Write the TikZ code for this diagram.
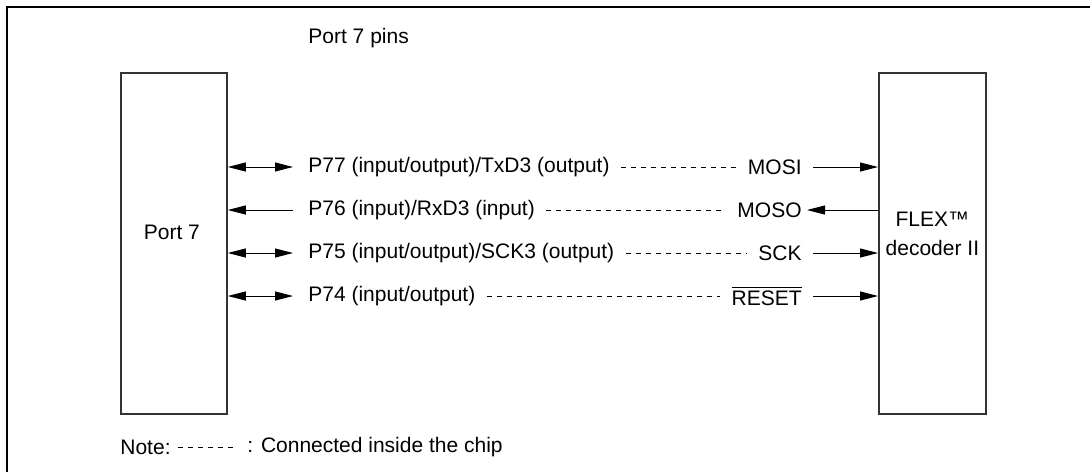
\documentclass[tikz,border=0pt]{standalone}
\usepackage{fontspec}
\setmainfont{Liberation Sans}
\usetikzlibrary{arrows.meta}
\begin{document}
\begin{tikzpicture}[x=0.5pt,y=-0.5pt,
  every node/.style={font=\fontsize{10.5}{14.5}\selectfont, inner sep=0pt},
  frame/.style={line width=1pt},
  chip/.style={draw=black!80, line width=0.9pt, minimum height=170.5pt},
  sig/.style={line width=0.5pt, >={Triangle[length=9pt,width=4.5pt]}},
  lab/.style={inner xsep=5.5pt},
  conn/.style={line width=0.5pt, dash pattern=on 2.6pt off 2.4pt}]
\useasboundingbox (0,0) rectangle (1090,472);
\draw[frame] (6.5,472) -- (6.5,7) -- (1090,7);

\node[anchor=west] (title) at (308,38) {Port 7 pins};

\node[chip, anchor=north west, minimum width=53pt] (port) at (120,72) {};
\node (porttxt) at ([xshift=-1pt,yshift=5.5pt]port.center) {Port 7};
\node[chip, anchor=north west, minimum width=53.5pt] (flex) at (878,72) {};
\node[align=center] (flextxt) at ([yshift=5pt]flex.center) {FLEX™\\decoder II};

% left labels
\node[lab, anchor=west] (l77) at (297,167) {P77 (input/output)/TxD3 (output)};
\node[lab, anchor=west] (l76) at (297,210) {P76 (input)/RxD3 (input)};
\node[lab, anchor=west] (l75) at (297,253) {P75 (input/output)/SCK3 (output)};
\node[lab, anchor=west] (l74) at (297,296) {P74 (input/output)};

% right labels
\node[lab, anchor=east] (r77) at (813,167) {MOSI};
\node[lab, anchor=east] (r76) at (813,210) {MOSO};
\node[lab, anchor=east] (r75) at (813,253) {SCK};
\node[lab, anchor=east] (r74) at (813,296) {$\overline{\mbox{RESET}}$};

% left arrows
\draw[sig,<->] (port.east |- l77.west) -- ([xshift=-2pt]l77.west);
\draw[sig,->] ([xshift=-2pt]l76.west) -- (port.east |- l76.west);
\draw[sig,<->] (port.east |- l75.west) -- ([xshift=-2pt]l75.west);
\draw[sig,<->] (port.east |- l74.west) -- ([xshift=-2pt]l74.west);

% dashed internal connections
\draw[conn] (l77.east) -- (r77.west);
\draw[conn] (l76.east) -- (r76.west);
\draw[conn] (l75.east) -- (r75.west);
\draw[conn] (l74.east) -- (r74.west);

% right arrows
\draw[sig,->] (r77.east) -- (flex.west |- r77.east);
\draw[sig,->] (flex.west |- r76.east) -- ([xshift=-3pt]r76.east);
\draw[sig,->] (r75.east) -- (flex.west |- r75.east);
\draw[sig,->] (r74.east) -- (flex.west |- r74.east);

% note
\node[anchor=west] (note) at (120,447) {Note:};
\coordinate (ndash) at (235,447);
\draw[conn] ([xshift=3.5pt]note.east) -- (ndash);
\node[anchor=west] (notetext) at (247,447) {: Connected inside the chip};
\end{tikzpicture}
\end{document}
